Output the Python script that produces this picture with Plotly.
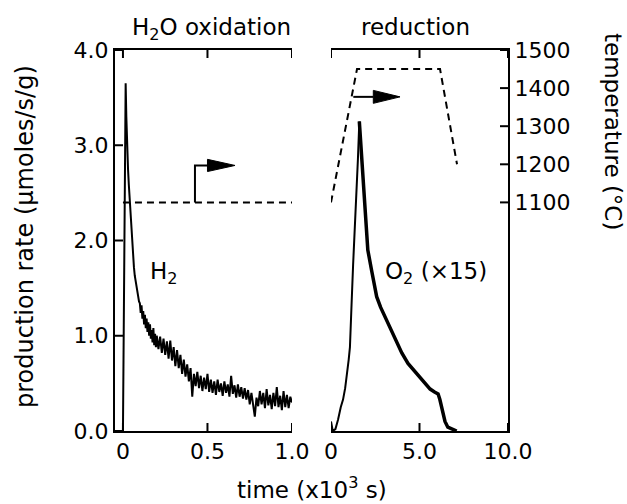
import plotly.graph_objects as go

# ---------------- data ----------------
# H2O oxidation: H2 production rate (umol/s/g) vs time (x10^3 s)
h2_t = [0.000, 0.006, 0.016, 0.020, 0.025, 0.030, 0.035, 0.040, 0.045, 0.050,
        0.055, 0.060, 0.065, 0.070, 0.075, 0.080, 0.085, 0.090, 0.095, 0.100,
        0.105, 0.11, 0.115, 0.12, 0.125, 0.13, 0.135, 0.14, 0.145, 0.15,
        0.155, 0.16, 0.165, 0.17, 0.175, 0.18, 0.185, 0.19, 0.195, 0.20,
        0.21, 0.22, 0.23, 0.24, 0.25, 0.26, 0.27, 0.28, 0.29, 0.30,
        0.31, 0.32, 0.33, 0.34, 0.35, 0.36, 0.37, 0.38, 0.39, 0.40,
        0.41, 0.42, 0.43, 0.44, 0.45, 0.46, 0.47, 0.48, 0.49, 0.50,
        0.51, 0.52, 0.53, 0.54, 0.55, 0.56, 0.57, 0.58, 0.59, 0.60,
        0.61, 0.62, 0.63, 0.64, 0.65, 0.66, 0.67, 0.68, 0.69, 0.70,
        0.71, 0.72, 0.73, 0.74, 0.75, 0.76, 0.77, 0.78, 0.79, 0.80,
        0.81, 0.82, 0.83, 0.84, 0.85, 0.86, 0.87, 0.88, 0.89, 0.90,
        0.91, 0.92, 0.93, 0.94, 0.95, 0.96, 0.97, 0.98, 0.99, 1.00]
h2_rate = [0.00, 1.50, 3.65, 3.30, 2.95, 2.75, 2.58, 2.42, 2.25, 2.08,
           1.95, 1.80, 1.72, 1.63, 1.57, 1.52, 1.44, 1.42, 1.36, 1.34,
           1.24, 1.32, 1.18, 1.26, 1.12, 1.22, 1.08, 1.18, 1.04, 1.14,
           1.00, 1.12, 0.97, 1.06, 0.93, 1.08, 0.90, 1.02, 0.88, 1.00,
           0.86, 0.99, 0.82, 0.97, 0.80, 0.94, 0.76, 0.95, 0.74, 0.88,
           0.68, 0.85, 0.66, 0.80, 0.60, 0.75, 0.57, 0.70, 0.52, 0.66,
           0.36, 0.60, 0.47, 0.62, 0.45, 0.58, 0.42, 0.56, 0.44, 0.60,
           0.41, 0.54, 0.40, 0.52, 0.38, 0.54, 0.41, 0.50, 0.37, 0.52,
           0.40, 0.49, 0.36, 0.58, 0.39, 0.48, 0.35, 0.49, 0.36, 0.46,
           0.34, 0.45, 0.33, 0.43, 0.28, 0.40, 0.24, 0.15, 0.35, 0.26,
           0.42, 0.28, 0.40, 0.24, 0.44, 0.27, 0.38, 0.23, 0.40, 0.26,
           0.46, 0.25, 0.37, 0.22, 0.42, 0.25, 0.38, 0.24, 0.36, 0.30]

# reduction: O2 production rate (x15) vs time (x10^3 s)
o2_t = [0.00, 0.10, 0.25, 0.40, 0.55, 0.68, 0.80, 0.90, 1.00, 1.07,
        1.13, 1.17, 1.25, 1.35, 1.45, 1.52, 1.60, 1.70, 1.80, 1.88,
        1.95, 2.08, 2.30, 2.58, 2.80, 3.00, 3.25, 3.50, 3.75, 4.00,
        4.35, 4.75, 5.20, 5.60, 5.85, 6.05, 6.15, 6.25, 6.35, 6.44,
        6.60, 6.80, 7.10]
o2_rate_x15 = [0.10, 0.00, 0.02, 0.12, 0.25, 0.33, 0.45, 0.58, 0.75, 0.88,
               1.10, 1.37, 1.75, 2.15, 2.42, 2.85, 3.25, 2.95, 2.65, 2.42,
               2.15, 1.90, 1.68, 1.41, 1.30, 1.22, 1.13, 1.04, 0.92, 0.82,
               0.71, 0.62, 0.52, 0.44, 0.41, 0.39, 0.33, 0.25, 0.17, 0.10,
               0.04, 0.02, 0.00]
o2_peak_index = 16  # rising part up to here, noisy decaying part after

# temperature programmes (deg C)
temp_ox_t = [0.0, 1.0]
temp_ox = [1100, 1100]
temp_red_t = [0.0, 1.47, 6.16, 7.12]
temp_red = [1100, 1450, 1450, 1200]

# tick values
x1_ticks = [0, 0.5, 1.0]
x1_labels = ["0", "0.5", "1.0"]
x2_ticks = [0, 5, 10]
x2_labels = ["0", "5.0", "10.0"]
rate_ticks = [0, 1, 2, 3, 4]
rate_labels = ["0.0", "1.0", "2.0", "3.0", "4.0"]
temp_ticks = [1100, 1200, 1300, 1400, 1500]
temp_labels = ["1100", "1200", "1300", "1400", "1500"]

x1_range = [-0.047, 1.0]
x2_range = [0, 10]
rate_range = [0, 4]
temp_range = [500, 1500]

# arrows (data units of each panel)
arrow_ox_t = [0.426, 0.426, 0.51]
arrow_ox_T = [1100, 1197, 1197]
arrow_ox_head = dict(base=0.50, tip=0.663, T=1197, half=16)
arrow_red_t = [1.26, 2.40]
arrow_red_T = [1377, 1377]
arrow_red_head = dict(base=2.39, tip=3.90, T=1377, half=17)

# ---------------- figure ----------------
FONT = "DejaVu Sans"
fig = go.Figure()

line_black = dict(color="black", width=2)
dash_line = dict(color="black", width=2, dash="7px,5px")

fig.add_trace(go.Scatter(x=h2_t, y=h2_rate, mode="lines", line=line_black,
                         xaxis="x", yaxis="y"))
fig.add_trace(go.Scatter(x=temp_ox_t, y=temp_ox, mode="lines", line=dash_line,
                         xaxis="x", yaxis="y4"))
fig.add_trace(go.Scatter(x=arrow_ox_t, y=arrow_ox_T, mode="lines", line=line_black,
                         xaxis="x", yaxis="y4"))
h = arrow_ox_head
fig.add_trace(go.Scatter(x=[h["base"], h["tip"], h["base"], h["base"]],
                         y=[h["T"] - h["half"], h["T"], h["T"] + h["half"], h["T"] - h["half"]],
                         mode="lines", fill="toself", fillcolor="black",
                         line=dict(color="black", width=1), xaxis="x", yaxis="y4"))

p = o2_peak_index
fig.add_trace(go.Scatter(x=o2_t[:p + 1], y=o2_rate_x15[:p + 1], mode="lines",
                         line=dict(color="black", width=2), xaxis="x2", yaxis="y2"))
fig.add_trace(go.Scatter(x=o2_t[p:], y=o2_rate_x15[p:], mode="lines",
                         line=dict(color="black", width=3.5), xaxis="x2", yaxis="y2"))
fig.add_trace(go.Scatter(x=temp_red_t, y=temp_red, mode="lines", line=dash_line,
                         xaxis="x2", yaxis="y3"))
fig.add_trace(go.Scatter(x=arrow_red_t, y=arrow_red_T, mode="lines", line=line_black,
                         xaxis="x2", yaxis="y3"))
h = arrow_red_head
fig.add_trace(go.Scatter(x=[h["base"], h["tip"], h["base"], h["base"]],
                         y=[h["T"] - h["half"], h["T"], h["T"] + h["half"], h["T"] - h["half"]],
                         mode="lines", fill="toself", fillcolor="black",
                         line=dict(color="black", width=1), xaxis="x2", yaxis="y3"))

tickfont = dict(family=FONT, size=22, color="black")
common = dict(showline=True, linewidth=2, linecolor="black", showgrid=False,
              zeroline=False, ticks="", tickfont=tickfont, tickmode="array")

W, H = 627, 504
L, R, T, B = 115, 119, 50, 73
pw = W - L - R

fig.update_layout(
    width=W, height=H, margin=dict(l=L, r=R, t=T, b=B),
    paper_bgcolor="white", plot_bgcolor="white", showlegend=False,
    xaxis=dict(domain=[0, 177 / pw], range=x1_range, tickvals=x1_ticks,
               ticktext=x1_labels, mirror=True, anchor="y", **common),
    yaxis=dict(range=rate_range, tickvals=rate_ticks, ticktext=rate_labels,
               anchor="x", **common),
    yaxis4=dict(range=temp_range, overlaying="y", anchor="x", visible=False),
    xaxis2=dict(domain=[216 / pw, 1], range=x2_range, tickvals=x2_ticks,
                ticktext=x2_labels, mirror=True, anchor="y2", **common),
    yaxis2=dict(range=rate_range, anchor="x2", visible=False),
    yaxis3=dict(range=temp_range, tickvals=temp_ticks, ticktext=temp_labels,
                overlaying="y2", anchor="x2", side="right", **common),
)

# inward tick marks (drawn as short pixel-sized lines at the tick values)
TL = 8
tick_line = dict(color="black", width=2)
shapes = []
for v in x1_ticks:
    for anchor, d in ((rate_range[0], TL), (rate_range[1], -TL)):
        shapes.append(dict(type="line", xref="x", yref="y", x0=v, x1=v,
                           ysizemode="pixel", yanchor=anchor, y0=0, y1=d, line=tick_line))
for v in x2_ticks:
    for anchor, d in ((rate_range[0], TL), (rate_range[1], -TL)):
        shapes.append(dict(type="line", xref="x2", yref="y2", x0=v, x1=v,
                           ysizemode="pixel", yanchor=anchor, y0=0, y1=d, line=tick_line))
for v in rate_ticks:
    shapes.append(dict(type="line", xref="x", yref="y", y0=v, y1=v,
                       xsizemode="pixel", xanchor=x1_range[0], x0=0, x1=TL, line=tick_line))
for v in temp_ticks:
    shapes.append(dict(type="line", xref="x2", yref="y3", y0=v, y1=v,
                       xsizemode="pixel", xanchor=x2_range[1], x0=0, x1=-TL, line=tick_line))
fig.update_layout(shapes=shapes)

def px_x(px):
    return (px - L) / pw

def px_y(py):
    return (H - B - py) / (H - T - B)

ann_font = dict(family=FONT, size=23, color="black")
annotations = [
    dict(text="H<sub>2</sub>O oxidation", x=px_x(211), y=px_y(29), xref="paper", yref="paper",
         xanchor="center", yanchor="middle", showarrow=False, font=ann_font),
    dict(text="reduction", x=px_x(415), y=px_y(27), xref="paper", yref="paper",
         xanchor="center", yanchor="middle", showarrow=False, font=ann_font),
    dict(text="time (x10<sup>3</sup> s)", x=px_x(312), y=px_y(488), xref="paper", yref="paper",
         xanchor="center", yanchor="middle", showarrow=False, font=ann_font),
    dict(text="production rate (\u03bcmoles/s/g)", x=px_x(25), y=px_y(237), xref="paper",
         yref="paper", xanchor="center", yanchor="middle", textangle=-90, showarrow=False,
         font=dict(family=FONT, size=24, color="black")),
    dict(text="temperature (\u00b0C)", x=px_x(613), y=px_y(131), xref="paper",
         yref="paper", xanchor="center", yanchor="middle", textangle=90, showarrow=False,
         font=dict(family=FONT, size=23, color="black")),
    dict(text="H<sub>2</sub>", x=0.148, y=1.66, xref="x", yref="y", xanchor="left",
         yanchor="middle", showarrow=False, font=ann_font),
    dict(text="O<sub>2</sub> (\u00d715)", x=2.94, y=1.66, xref="x2", yref="y2", xanchor="left",
         yanchor="middle", showarrow=False, font=ann_font),
]
fig.update_layout(annotations=annotations)

fig.write_html("out.html")
